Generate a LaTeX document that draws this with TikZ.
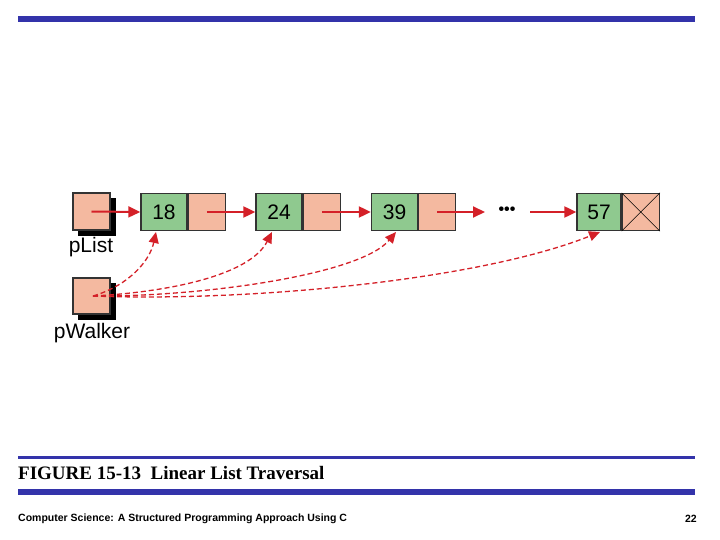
\documentclass[tikz,border=0pt]{standalone}
\usepackage{fontspec}
\setmainfont{Liberation Serif}
\setsansfont{Liberation Sans}
\usetikzlibrary{arrows.meta}
\definecolor{bar}{HTML}{3333AA}
\definecolor{grn}{HTML}{8FC98F}
\definecolor{pnk}{HTML}{F4B9A0}
\definecolor{rd}{HTML}{D42028}
\tikzset{
 cell/.style={draw=black!80,line width=1.3pt,minimum height=37pt,inner sep=0pt,font=\sffamily\fontsize{21}{21}\selectfont},
 gcell/.style={cell,fill=grn,minimum width=46pt},
 pcell/.style={cell,fill=pnk,minimum width=37pt},
 link/.style={rd,line width=2pt,-{Triangle[length=12pt,width=11pt]}},
 walk/.style={rd,line width=1.3pt,dash pattern=on 5pt off 3pt,-{Triangle[length=11pt,width=10pt]}},
 lbl/.style={font=\sffamily\fontsize{21}{21}\selectfont,inner sep=0pt}
}
\begin{document}
\begin{tikzpicture}[x=1pt,y=-1pt]
\useasboundingbox (0,0) rectangle (720,540);
\fill[bar] (18,16) rectangle (695,22);
\fill[bar] (18,456) rectangle (695,458.5);
\fill[bar] (18,489) rectangle (695,495);
\node[anchor=west,inner sep=0pt,font=\bfseries\fontsize{19}{19}\selectfont] (cap) at (18,473) {FIGURE 15-13\enspace Linear List Traversal};
\node[anchor=west,inner sep=0pt,font=\sffamily\bfseries\fontsize{10.5}{11}\selectfont] (ft) at (18,519) {Computer Science: A Structured Programming Approach Using C};
\node[anchor=east,inner sep=0pt,font=\sffamily\bfseries\fontsize{10.5}{11}\selectfont] (pg) at (697,519) {22};
% pList
\fill[black] (78,198) rectangle (116,236);
\node[pcell] (pl) at (91.5,211.5) {};
\node[lbl] (pll) at (91,247) {pList};
\fill[black] (78,283) rectangle (116,320);
\node[pcell,minimum height=36pt] (pw) at (91.5,296) {};
\node[lbl] (pwl) at (92,333) {pWalker};
% nodes
\node[gcell] (d1) at (164,212) {18};
\node[pcell,anchor=west] (n1) at (d1.east) {};
\node[gcell] (d2) at (279,212) {24};
\node[pcell,anchor=west] (n2) at (d2.east) {};
\node[gcell] (d3) at (394.5,212) {39};
\node[pcell,anchor=west] (n3) at (d3.east) {};
\node[gcell,minimum width=44pt] (d4) at (599,212) {57};
\node[pcell,anchor=west] (n4) at (d4.east) {};
\draw[line width=0.6pt] (n4.north west) -- (n4.south east) (n4.south west) -- (n4.north east);
\node[font=\sffamily\bfseries\fontsize{16}{16}\selectfont,inner sep=0pt] (dots) at (507,211) {•••};
\coordinate (dl) at (485,212);
\coordinate (dr) at (530,212);
\draw[link] (pl.center) -- (d1.west);
\draw[link] (n1.center) -- (d2.west);
\draw[link] (n2.center) -- (d3.west);
\draw[link] (n3.center) -- (dl);
\draw[link] (dr) -- (d4.west);
% walker
\coordinate (w) at (93,296);
\draw[walk] (w) .. controls (130,285) and (150,260) .. (156,232);
\draw[walk] (w) .. controls (170,292) and (250,275) .. (272,232);
\draw[walk] (w) .. controls (200,297) and (360,275) .. (396,232);
\draw[walk] (w) .. controls (250,302) and (480,280) .. (600,232);
\end{tikzpicture}
\end{document}
